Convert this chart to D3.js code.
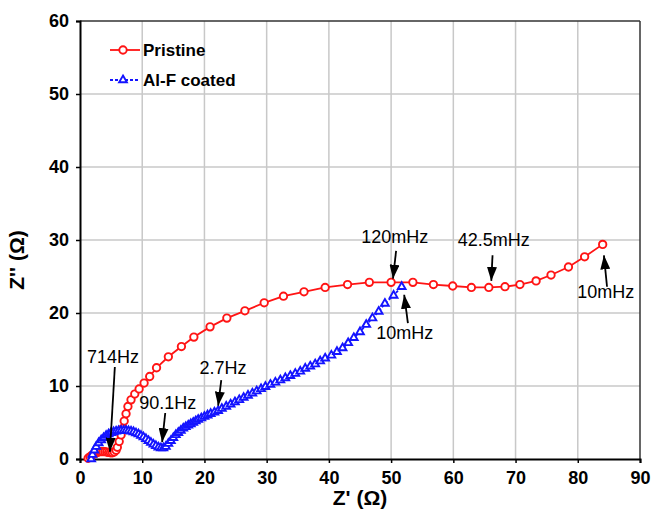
<!DOCTYPE html>
<html><head><meta charset="utf-8">
<script src="https://cdn.jsdelivr.net/npm/d3@7"></script>
<style>body{margin:0;background:#fff}svg{display:block}text{font-family:"Liberation Sans",Arial,sans-serif}</style>
</head><body>
<svg id="c" width="652" height="518"></svg>
<script>
const xTicks=[0,10,20,30,40,50,60,70,80,90];
const yTicks=[0,10,20,30,40,50,60];
const seriesNames=["Pristine","Al-F coated"];
const pristineX=[1.3,1.6,1.9,2.2,2.5,2.8,3.1,3.4,3.7,4.0,4.3,4.6,4.9,5.2,5.5,5.8,6.0,6.3,6.6,6.9,7.1,7.4,7.7,8.2,8.8,9.5,10.3,11.2,12.3,14.2,16.3,18.3,20.9,23.6,26.5,29.6,32.7,36.0,39.4,43.0,46.5,50.0,53.5,56.8,59.9,62.9,65.7,68.3,70.7,73.3,75.7,78.5,81.1,84.0];
const pristineY=[0.1,0.3,0.5,0.7,0.8,0.9,1.0,1.0,1.0,1.0,0.95,0.9,0.85,0.85,0.95,1.2,1.6,2.4,3.3,4.2,5.2,6.2,7.2,8.1,8.9,9.6,10.4,11.3,12.5,14.0,15.4,16.7,18.1,19.3,20.3,21.4,22.3,22.9,23.5,23.9,24.2,24.2,24.2,23.9,23.7,23.5,23.5,23.6,23.9,24.4,25.2,26.3,27.7,29.4];
const coatedX=[1.8,2.0,2.3,2.6,3.0,3.4,3.8,4.2,4.6,5.0,5.4,5.8,6.2,6.6,7.0,7.4,7.8,8.2,8.6,9.0,9.4,9.8,10.2,10.6,11.0,11.4,11.8,12.2,12.6,13.0,13.4,13.8,14.2,14.6,15.0,15.4,15.8,16.2,16.6,17.0,17.4,17.8,18.2,18.6,19.0,19.5,20.0,20.5,21.0,21.6,22.2,22.8,23.5,24.2,24.9,25.6,26.3,27.0,27.7,28.4,29.1,29.8,30.6,31.4,32.2,33.0,33.8,34.6,35.4,36.2,37.0,37.8,38.6,39.4,40.4,41.3,42.2,43.1,44.0,45.0,46.0,47.0,48.0,49.0,50.4,51.7];
const coatedY=[0.0,0.6,1.2,1.7,2.2,2.6,2.9,3.2,3.4,3.6,3.7,3.8,3.85,3.9,3.9,3.9,3.85,3.8,3.7,3.55,3.4,3.2,3.0,2.75,2.5,2.25,2.0,1.8,1.6,1.5,1.5,1.7,2.1,2.5,2.9,3.3,3.6,3.9,4.2,4.4,4.6,4.8,5.0,5.2,5.4,5.6,5.8,6.0,6.2,6.4,6.6,6.9,7.2,7.5,7.8,8.1,8.4,8.7,9.0,9.3,9.6,9.9,10.2,10.5,10.8,11.1,11.4,11.7,12.0,12.4,12.7,13.0,13.4,13.8,14.2,14.7,15.2,15.9,16.6,17.4,18.4,19.3,20.2,21.3,22.4,23.6];
const annLabels=["714Hz","90.1Hz","2.7Hz","120mHz","42.5mHz","10mHz","10mHz"];
const annTextX=[5.3,14.1,23.0,50.6,66.5,84.5,52.2];
const annTextY=[13.2,6.8,11.6,29.6,29.2,22.1,16.4];
const annFromX=[5.6,13.7,22.7,50.8,66.3,84.7,52.7];
const annFromY=[12.6,6.3,10.8,28.5,27.9,23.6,18.6];
const annToX=[4.8,13.2,22.2,50.3,66.1,84.2,52.1];
const annToY=[1.0,2.3,7.3,24.7,24.4,27.9,22.5];

const svg=d3.select("#c");
const L=80,R=640,T=21,B=459;
const x=d3.scaleLinear().domain([0,90]).range([L,R]);
const y=d3.scaleLinear().domain([0,60]).range([B,T]);
const RED="#ff1414", BLUE="#1414ff";

// grid
const g=svg.append("g");
g.selectAll(".gx").data(xTicks.slice(1,-1)).join("line")
 .attr("x1",d=>x(d)).attr("x2",d=>x(d)).attr("y1",T).attr("y2",B)
 .attr("stroke","#c8c8c8").attr("stroke-width",1.5);
g.selectAll(".gy").data(yTicks.slice(1,-1)).join("line")
 .attr("y1",d=>y(d)).attr("y2",d=>y(d)).attr("x1",L).attr("x2",R)
 .attr("stroke","#c8c8c8").attr("stroke-width",1.5);
svg.append("line").attr("x1",L).attr("x2",R).attr("y1",T).attr("y2",T).attr("stroke","#333").attr("stroke-width",1.5);
svg.append("line").attr("x1",R).attr("x2",R).attr("y1",T).attr("y2",B).attr("stroke","#333").attr("stroke-width",1.5);

// axes
const xa=svg.append("g").attr("transform",`translate(0,${B})`)
 .call(d3.axisBottom(x).tickValues(xTicks).tickSize(4).tickPadding(8).tickFormat(d3.format("d")));
const ya=svg.append("g").attr("transform",`translate(${L},0)`)
 .call(d3.axisLeft(y).tickValues(yTicks).tickSize(4).tickPadding(7).tickFormat(d3.format("d")));
[xa,ya].forEach(a=>{
 a.select(".domain").attr("stroke","#000").attr("stroke-width",2);
 a.selectAll(".tick line").attr("stroke","#000").attr("stroke-width",1.5);
 a.selectAll(".tick text").attr("font-size",18).attr("font-weight","bold").attr("fill","#000")
  .attr("font-family","'Liberation Sans',Arial,sans-serif");
});

// axis titles
svg.append("text").attr("x",(L+R)/2).attr("y",505).attr("text-anchor","middle")
 .attr("font-size",21).attr("font-weight","bold").text("Z' (Ω)");
svg.append("text").attr("transform",`translate(24,${(T+B)/2+20}) rotate(-90)`).attr("text-anchor","middle")
 .attr("font-size",21).attr("font-weight","bold").text("Z'' (Ω)");

// series
const pData=pristineX.map((v,i)=>[v,pristineY[i]]);
const cData=coatedX.map((v,i)=>[v,coatedY[i]]);
const line=d3.line().x(d=>x(d[0])).y(d=>y(d[1]));
svg.append("path").attr("d",line(pData)).attr("fill","none").attr("stroke",RED).attr("stroke-width",1.8);
svg.selectAll(".pc").data(pData).join("circle").attr("cx",d=>x(d[0])).attr("cy",d=>y(d[1])).attr("r",3.7)
 .attr("fill","#fff").attr("stroke",RED).attr("stroke-width",1.9);
svg.append("path").attr("d",line(cData)).attr("fill","none").attr("stroke",BLUE).attr("stroke-width",1.8).attr("stroke-dasharray","3,2");
const tri=d3.symbol().type(d3.symbolTriangle).size(26);
svg.selectAll(".ct").data(cData).join("path").attr("d",tri)
 .attr("transform",d=>`translate(${x(d[0])},${y(d[1])})`)
 .attr("fill","#fff").attr("stroke",BLUE).attr("stroke-width",1.9);

// annotations
svg.append("defs").append("marker").attr("id","ah").attr("viewBox","0 0 14 10").attr("refX",14).attr("refY",5)
 .attr("markerWidth",14).attr("markerHeight",10).attr("markerUnits","userSpaceOnUse").attr("orient","auto")
 .append("path").attr("d","M0,0L14,5L0,10Z").attr("fill","#000");
annLabels.forEach((t,i)=>{
 svg.append("line").attr("x1",x(annFromX[i])).attr("y1",y(annFromY[i])).attr("x2",x(annToX[i])).attr("y2",y(annToY[i]))
  .attr("stroke","#000").attr("stroke-width",1.8).attr("marker-end","url(#ah)");
 svg.append("text").attr("x",x(annTextX[i])).attr("y",y(annTextY[i])).attr("text-anchor","middle")
  .attr("font-size",18).attr("fill","#000").text(t);
});

// legend
const lg=svg.append("g");
lg.append("line").attr("x1",110).attr("x2",140).attr("y1",50).attr("y2",50).attr("stroke",RED).attr("stroke-width",1.8);
lg.append("circle").attr("cx",123).attr("cy",50).attr("r",3.7).attr("fill","#fff").attr("stroke",RED).attr("stroke-width",1.9);
lg.append("text").attr("x",143).attr("y",56).attr("font-size",17).attr("font-weight","bold").text(seriesNames[0]);
lg.append("line").attr("x1",110).attr("x2",140).attr("y1",80).attr("y2",80).attr("stroke",BLUE).attr("stroke-width",1.8).attr("stroke-dasharray","3,2");
lg.append("path").attr("d",tri).attr("transform","translate(123,80)").attr("fill","#fff").attr("stroke",BLUE).attr("stroke-width",1.9);
lg.append("text").attr("x",143).attr("y",86).attr("font-size",17).attr("font-weight","bold").text(seriesNames[1]);
</script>
</body></html>
